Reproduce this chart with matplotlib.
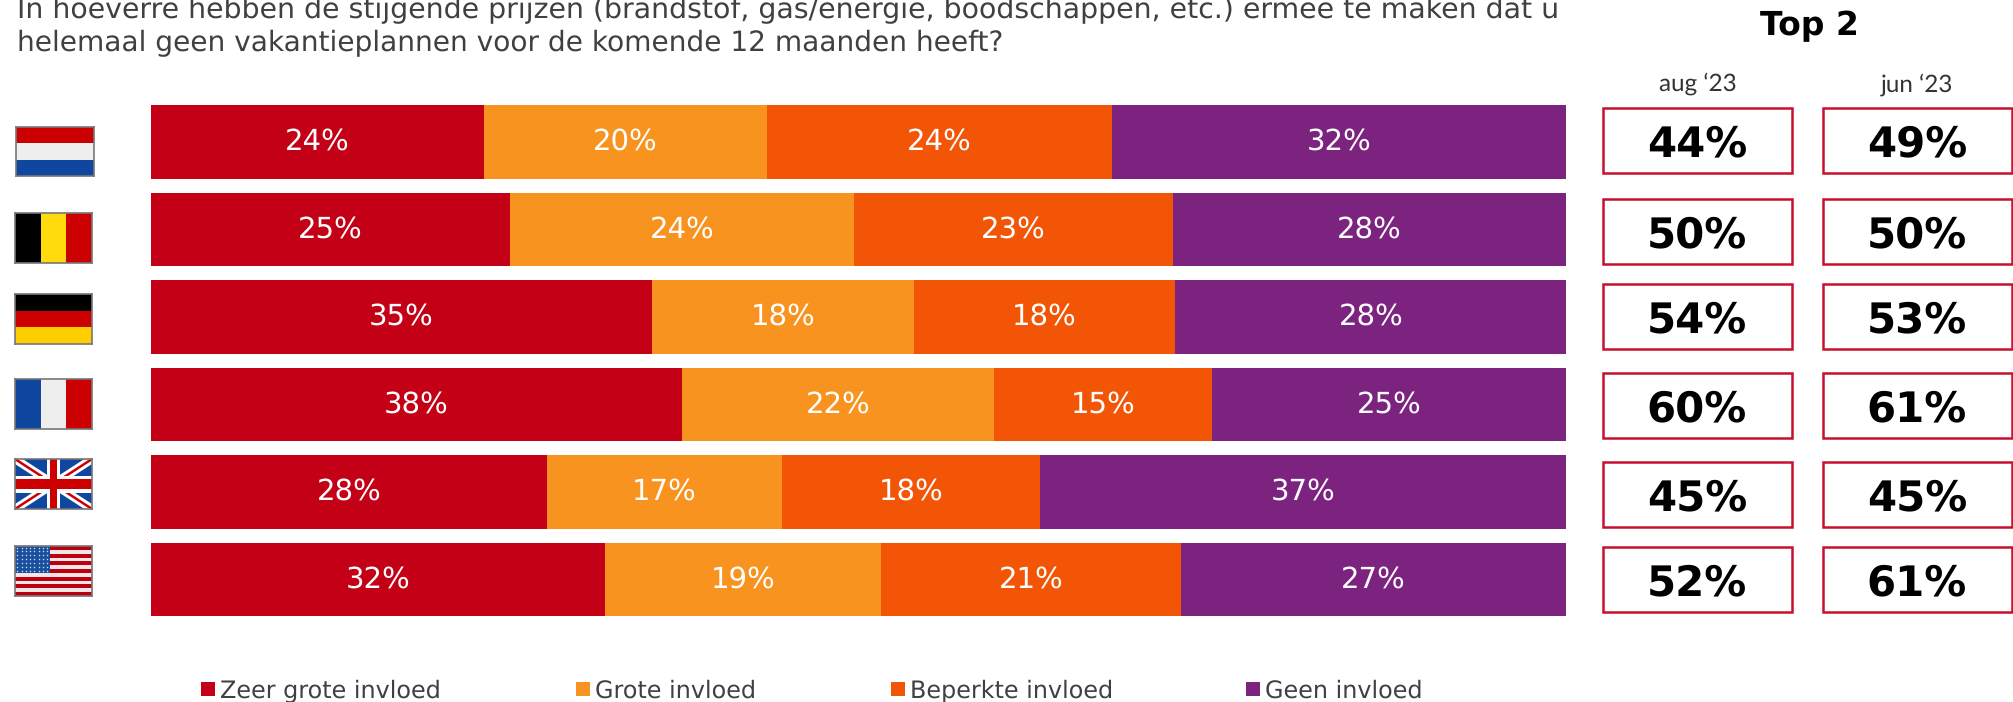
"""Stacked bars per country with flags and two Top 2 columns."""
import matplotlib
matplotlib.use('Agg')
import matplotlib.pyplot as plt
from matplotlib.patches import Rectangle
import numpy as np

W, H = 2013, 702

question = ["In hoeverre hebben de stijgende prijzen (brandstof, gas/energie, boodschappen, etc.) ermee te maken dat u",
            "helemaal geen vakantieplannen voor de komende 12 maanden heeft?"]
countries = ['NL', 'BE', 'DE', 'FR', 'UK', 'US']
categories = ['Zeer grote invloed', 'Grote invloed', 'Beperkte invloed', 'Geen invloed']
colors = ['#C40016', '#F7931E', '#F25506', '#7B237F']

# segment widths as measured, the printed labels are the rounded ones
zeer_groot = [23.5, 25.4, 35.4, 37.5, 28.0, 32.1]
groot = [20.0, 24.3, 18.5, 22.1, 16.6, 19.5]
beperkt = [24.4, 22.5, 18.5, 15.4, 18.2, 21.2]
geen = [32.1, 27.8, 27.6, 25.0, 37.2, 27.2]
labels = [[24, 25, 35, 38, 28, 32],
          [20, 24, 18, 22, 17, 19],
          [24, 23, 18, 15, 18, 21],
          [32, 28, 28, 25, 37, 27]]

top2_aug = [44, 50, 54, 60, 45, 52]
top2_jun = [49, 50, 53, 61, 45, 61]

RED = '#CC0000'
BLUE = '#0F47A0'
WHITE = '#EEEEEE'


def px_axes(x0, y0, x1, y1):
    # axes placed with pixel coordinates, y counted from the top
    return fig.add_axes([x0 / W, 1 - y1 / H, (x1 - x0) / W, (y1 - y0) / H])


def stripes(ax, cols, vertical=False):
    n = len(cols)
    for i, c in enumerate(cols):
        if vertical:
            ax.add_patch(Rectangle((i / n, 0), 1 / n, 1, color=c, lw=0))
        else:
            ax.add_patch(Rectangle((0, 1 - (i + 1) / n), 1, 1 / n, color=c, lw=0))


def uk_flag(ax):
    ax.add_patch(Rectangle((0, 0), 1, 1, color=BLUE, lw=0))
    ax.plot([0, 1], [0, 1], color='white', lw=6, solid_capstyle='butt', zorder=1.1)
    ax.plot([0, 1], [1, 0], color='white', lw=6, solid_capstyle='butt', zorder=1.1)
    ax.plot([0, 1], [0, 1], color=RED, lw=1.8, solid_capstyle='butt', zorder=1.2)
    ax.plot([0, 1], [1, 0], color=RED, lw=1.8, solid_capstyle='butt', zorder=1.2)
    ax.add_patch(Rectangle((0.41, 0), 0.18, 1, color='white', lw=0, zorder=1.3))
    ax.add_patch(Rectangle((0, 0.33), 1, 0.34, color='white', lw=0, zorder=1.3))
    ax.add_patch(Rectangle((0.45, 0), 0.10, 1, color=RED, lw=0, zorder=1.4))
    ax.add_patch(Rectangle((0, 0.40), 1, 0.20, color=RED, lw=0, zorder=1.4))


def us_flag(ax):
    stripes(ax, ['#BB0010' if i % 2 == 0 else '#F4E6E6' for i in range(13)])
    ax.add_patch(Rectangle((0, 6 / 13), 0.45, 7 / 13, color='#1A4FA0', lw=0, zorder=1.1))
    sx, sy = np.meshgrid(np.linspace(0.03, 0.42, 8), np.linspace(0.5, 0.97, 7))
    ax.scatter(sx.ravel(), sy.ravel(), s=1.2, color='#C8D8F0', lw=0, zorder=1.2)


plt.rcParams['font.family'] = 'DejaVu Sans'
# widths scale evenly with the size this way
plt.rcParams['text.hinting'] = 'no_hinting'
fig = plt.figure(figsize=(W / 100, H / 100), dpi=100)

# main bars
ax = px_axes(151, 98, 1566, 623.4)
values = np.array([zeer_groot, groot, beperkt, geen])
y = np.arange(len(countries))
left = np.zeros(len(countries))
for vals, col, lab in zip(values, colors, labels):
    bars = ax.barh(y, vals, left=left, height=0.84, color=col, lw=0)
    ax.bar_label(bars, labels=['{0}%'.format(v) for v in lab], label_type='center',
                 color='white', fontsize=21)
    left = left + vals
ax.set_xlim(0, 100)
ax.set_ylim(len(countries) - 0.5, -0.5)
ax.axis('off')

# overlay in pixel units for texts, boxes and legend
ov = fig.add_axes([0, 0, 1, 1], zorder=-1)
ov.set_xlim(0, W)
ov.set_ylim(H, 0)
ov.axis('off')

# the first line runs off the top edge in the source image as well
ov.text(17, 10, question[0], fontsize=20.4, color='#404040', va='center', ha='left')
ov.text(17, 43, question[1], fontsize=20.2, color='#404040', va='center', ha='left')
ov.text(1809, 26, 'Top 2', fontsize=23.8, fontweight='bold', color='black', ha='center', va='center')
ov.text(1698, 84, 'aug \u201823', fontsize=17.5, family='Lato', color='#333333', ha='center', va='center')
ov.text(1917, 85, 'jun \u201823', fontsize=17.5, family='Lato', color='#333333', ha='center', va='center')

box_tops = [108, 199, 284, 373, 462, 547]
for top, aug, jun in zip(box_tops, top2_aug, top2_jun):
    for x0, v in ((1603, aug), (1823, jun)):
        ov.add_patch(Rectangle((x0, top), 188.5, 65, fill=False, edgecolor='#C8102E', lw=1.8))
        ov.text(x0 + 94, top + 37, '{0}%'.format(v), fontsize=30.2, fontweight='bold',
                color='black', ha='center', va='center')

# legend
for x0, name, col in zip([201, 576, 891, 1246], categories, colors):
    ov.add_patch(Rectangle((x0, 682), 14, 14, color=col, lw=0))
    ov.text(x0 + 19, 691, name, fontsize=17.2, color='#404040', ha='left', va='center')

# flags
flag_boxes = [(16, 127, 94, 176), (15, 213, 92, 263), (15, 294, 92, 344),
              (15, 379, 92, 429), (15, 459, 92, 509), (15, 546, 92, 596)]
for code, box in zip(countries, flag_boxes):
    fa = px_axes(*box)
    fa.set_xlim(0, 1)
    fa.set_ylim(0, 1)
    fa.set_xticks([])
    fa.set_yticks([])
    if code == 'NL':
        stripes(fa, [RED, WHITE, BLUE])
    elif code == 'BE':
        stripes(fa, ['black', '#FFDA0C', RED], vertical=True)
    elif code == 'DE':
        stripes(fa, ['black', RED, '#FFCE00'])
    elif code == 'FR':
        stripes(fa, [BLUE, WHITE, RED], vertical=True)
    elif code == 'UK':
        uk_flag(fa)
    else:
        us_flag(fa)
    for s in fa.spines.values():
        s.set_color('#777777')
        s.set_linewidth(1.2)

fig.savefig('out.png', dpi=100)
